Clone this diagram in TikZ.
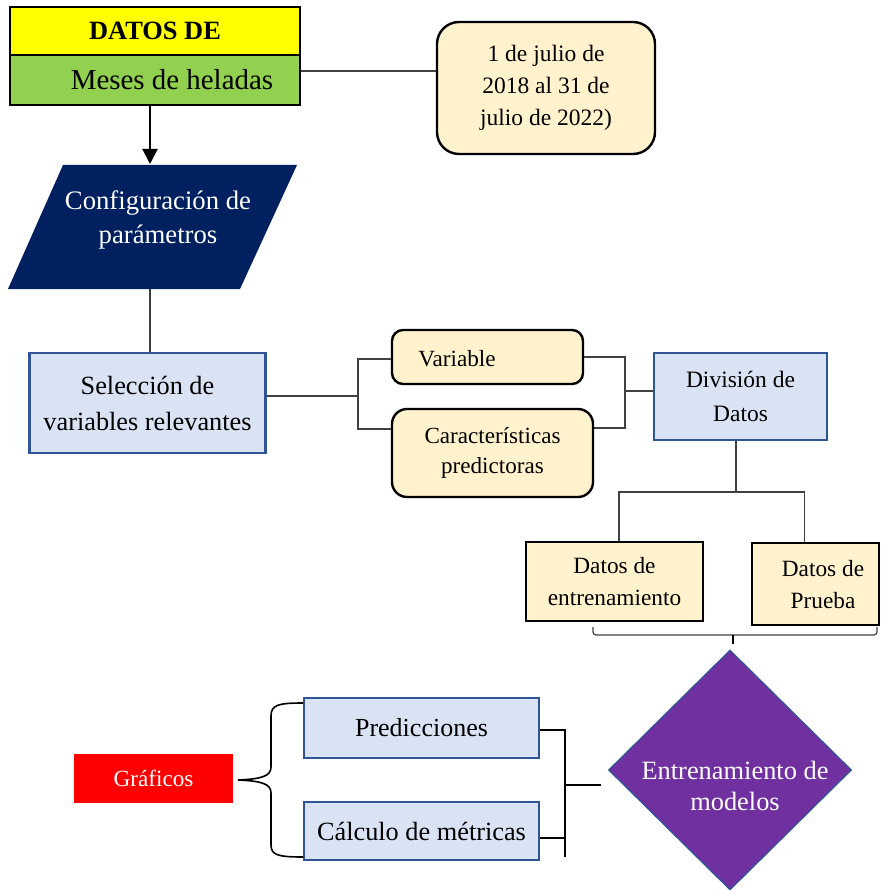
\documentclass[tikz,border=0pt]{standalone}
\usepackage{fontspec}
\setmainfont{Liberation Serif}
\usetikzlibrary{shapes.geometric,arrows.meta}

\definecolor{hdrYellow}{HTML}{FFFF00}
\definecolor{hdrGreen}{HTML}{92D050}
\definecolor{cream}{HTML}{FFF2CC}
\definecolor{navy}{HTML}{002060}
\definecolor{paleBlue}{HTML}{DAE3F3}
\definecolor{edgeBlue}{HTML}{2F5597}
\definecolor{violet}{HTML}{7030A0}
\definecolor{alertRed}{HTML}{FF0000}
\definecolor{wireGray}{HTML}{404040}

\newcommand\fz[2]{\fontsize{#1}{#2}\selectfont}

\tikzset{
  blackbox/.style={draw=black, line width=2.5pt, inner sep=0pt, align=center},
  creambox/.style={draw=black, fill=cream, line width=2.4pt, inner sep=0pt, align=center},
  bluebox/.style={draw=edgeBlue, fill=paleBlue, line width=2.2pt, inner sep=0pt, align=center},
  conn/.style={draw=wireGray, line width=1.3pt},
  blk/.style={draw=black, line width=2pt},
}

\begin{document}
\begin{tikzpicture}[x=1pt,y=-1pt]
\useasboundingbox (0,0) rectangle (881,890);

% header block
\node[blackbox, fill=hdrYellow, minimum width=290, minimum height=48,
      font=\fz{26.4}{30}\bfseries] (datos) at (155,31) {DATOS DE};
\node[blackbox, fill=hdrGreen, minimum width=290, minimum height=50,
      font=\fz{28.9}{32}] (meses) at (155,80) {\hspace*{34pt}Meses de heladas};

% date range
\node[creambox, rounded corners=22pt, minimum width=218, minimum height=132,
      font=\fz{23.5}{32}] (fecha) at (546,88) {1 de julio de\\2018 al 31 de\\julio de 2022)};

% parameter configuration (parallelogram)
\fill[navy] (63,165) -- (297,165) -- (240,289) -- (8,289) -- cycle;
\node[text=white, align=center, font=\fz{26.7}{34}] (config) at (158,220)
      {Configuración de\\parámetros};
\coordinate (cfgtop) at (150,164);
\coordinate (cfgbot) at (150,289);

% variable selection
\node[bluebox, minimum width=236, minimum height=100, font=\fz{26.3}{36}] (sel)
      at (147.5,403) {Selección de\\variables relevantes};

\node[creambox, rounded corners=11pt, minimum width=191, minimum height=54] (var)
      at (487.5,357) {};
\node[font=\fz{23.2}{28}] (vartxt) at (457,359) {Variable};
\node[creambox, rounded corners=15pt, minimum width=201, minimum height=88,
      font=\fz{23.1}{30}] (car) at (492.5,453) {Características\\predictoras};

\node[bluebox, minimum width=173, minimum height=87, font=\fz{23.5}{34}] (div)
      at (740.5,396.5) {División de\\Datos};

% data split
\node[blackbox, fill=cream, minimum width=177, minimum height=79,
      font=\fz{23.3}{32}] (tr) at (614.5,581.5) {Datos de\\entrenamiento};
\node[blackbox, fill=cream, minimum width=127, minimum height=82] (pr)
      at (815.5,584) {};
\node[align=center, font=\fz{23.3}{32}] (prtxt) at (823,585) {Datos de\\Prueba};

% model training
\node[diamond, fill=violet, draw=edgeBlue, line width=1.2pt, inner sep=0pt,
      minimum width=243, minimum height=240] (ent) at (730,770) {};
\node[text=white, align=center, font=\fz{26.4}{31}] (enttxt) at (735,786)
      {Entrenamiento de\\modelos};

% outputs
\node[bluebox, minimum width=235, minimum height=60, font=\fz{26}{30}] (pred)
      at (421.5,728) {Predicciones};
\node[bluebox, minimum width=235, minimum height=58, font=\fz{26.3}{30}] (calc)
      at (421.5,831) {Cálculo de métricas};
\node[fill=alertRed, text=white, minimum width=159, minimum height=49, inner sep=0pt,
      font=\fz{23.2}{28}] (graf) at (153.5,778.5) {Gráficos};

% connectors
\draw[conn] ([yshift=9pt]meses.east) -- ([yshift=9pt]meses.east -| fecha.west);
\draw[blk, -{Triangle[length=15pt,width=15pt]}] ([xshift=-5pt]meses.south) -- (cfgtop);
\draw[conn] (cfgbot) -- (cfgbot |- sel.north);

\coordinate (jL) at (358,396);
\draw[conn] (sel.east |- jL) -- (jL);
\draw[conn] ([yshift=-2pt]var.west) -| (jL);
\draw[conn] ([yshift=24pt]car.west) -| (jL);

\coordinate (jR) at (625,391);
\draw[conn] (var.east) -| (jR);
\draw[conn] ([yshift=25pt]car.east) -| (jR);
\draw[conn] (jR) -- (jR -| div.west);

\coordinate (jD) at (736,492);
\draw[conn] (jD |- div.south) -- (jD);
\draw[conn] ([xshift=4.5pt]tr.north) |- (jD) -| ([xshift=-11pt]pr.north);

\coordinate (brL) at (593,627);
\coordinate (brR) at (877,627);
\coordinate (brM) at (733,635);
\draw[conn, line width=1.2pt, rounded corners=3pt] (brL) -- (593,635) -- (877,635) -- (brR);
\draw[blk, line width=1.8pt] (brM) -- ++(0,9);

\coordinate (jM) at (565,785);
\draw[blk] ([yshift=-2pt]pred.east) -| (565,857);
\draw[blk] ([yshift=-7pt]calc.east) -| (jM);
\draw[blk] (jM) -- ([xshift=-7pt]jM -| ent.west);

\coordinate (tip) at (238,780);
\draw[black, line width=1.6pt]
  (303,703) .. controls (278,703) and (271,705) .. (271,716)
  -- (271,767) .. controls (271,776) and (262,779) .. (tip)
  .. controls (262,781) and (271,784) .. (271,793)
  -- (271,845) .. controls (271,855) and (278,857) .. (303,857);
\end{tikzpicture}
\end{document}
